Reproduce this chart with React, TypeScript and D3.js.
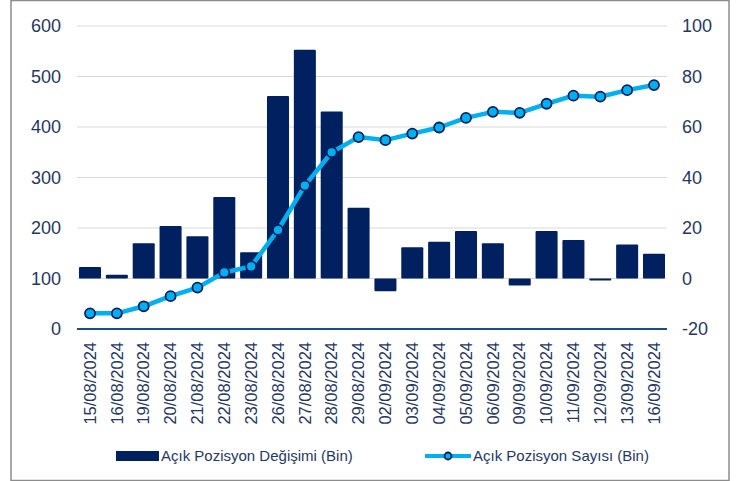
import React from "react";
import { scaleBand, scaleLinear, line } from "d3";

// tarih etiketleri
const dates = [
  "15/08/2024", "16/08/2024", "19/08/2024", "20/08/2024", "21/08/2024", "22/08/2024",
  "23/08/2024", "26/08/2024", "27/08/2024", "28/08/2024", "29/08/2024", "02/09/2024",
  "03/09/2024", "04/09/2024", "05/09/2024", "06/09/2024", "09/09/2024", "10/09/2024",
  "11/09/2024", "12/09/2024", "13/09/2024", "16/09/2024",
];

// Açık Pozisyon Değişimi (Bin) - sağ eksen
const degisim = [
  4.6, 1.5, 14, 20.8, 16.7, 32.3, 10.4, 72.3, 90.6, 66.1, 28, -5,
  12.4, 14.6, 18.8, 14, -2.8, 18.8, 15.2, -0.8, 13.5, 9.8,
];

// Açık Pozisyon Sayısı (Bin) - sol eksen
const sayi = [
  31, 31, 45, 65, 82, 112, 124, 196, 284, 350, 380, 374,
  387, 399, 418, 430, 428, 446, 462, 460, 473, 483,
];

const leftTicks = [0, 100, 200, 300, 400, 500, 600];
const rightTicks = [-20, 0, 20, 40, 60, 80, 100];

const width = 745;
const height = 481;
const margin = { top: 26, right: 78, bottom: 152, left: 77 };

const navy = "#002060";
const cyan = "#00B0F0";
const textColor = "#1F3864";

const App = () => {
  const innerBottom = height - margin.bottom + 0;
  const x = scaleBand()
    .domain(dates)
    .range([margin.left, width - margin.right])
    .paddingInner(0.18)
    .paddingOuter(0.074);

  const yL = scaleLinear().domain([0, 600]).range([329, margin.top]);
  const yR = scaleLinear().domain([-20, 100]).range([329, margin.top]);

  const cx = (d: string) => (x(d) || 0) + x.bandwidth() / 2;

  const path = line<number>()
    .x((_, i) => cx(dates[i]))
    .y((d) => yL(d))(sayi);

  return (
    <svg
      width={width}
      height={height}
      style={{ position: "absolute", left: 0, top: 0, fontFamily: "Liberation Sans, Arial, sans-serif" }}
    >
      <rect x={0} y={0} width={width} height={height} fill="white" />
      <rect x={11} y={0.5} width={718} height={480} fill="none" stroke="#8c8c8c" strokeWidth={1.5} />

      {/* grid */}
      {leftTicks.filter(t => t > 0).map((t) => (
        <line key={t} x1={margin.left} x2={width - margin.right} y1={yL(t)} y2={yL(t)} stroke="#D9D9D9" strokeWidth={1} />
      ))}

      {/* bars */}
      {degisim.map((v, i) => (
        <rect
          key={i}
          x={x(dates[i])}
          y={Math.min(yR(v), yR(0))}
          width={x.bandwidth()}
          height={Math.abs(yR(v) - yR(0))}
          fill={navy}
          rx={1}
        />
      ))}

      {/* x axis line */}
      <line x1={margin.left} x2={width - margin.right} y1={yL(0)} y2={yL(0)} stroke="#1F4E79" strokeWidth={2} />

      {/* line */}
      <path d={path || ""} fill="none" stroke={cyan} strokeWidth={4.5} strokeLinejoin="round" />
      {sayi.map((v, i) => (
        <circle key={i} cx={cx(dates[i])} cy={yL(v)} r={5} fill={cyan} stroke={navy} strokeWidth={1.8} />
      ))}

      {/* left axis labels */}
      {leftTicks.map((t) => (
        <text key={t} x={61} y={yL(t)} dy="0.35em" textAnchor="end" fontSize={18} fill={textColor}>{t}</text>
      ))}

      {/* right axis labels */}
      {rightTicks.map((t) => (
        <text key={t} x={682} y={yR(t)} dy="0.35em" textAnchor="start" fontSize={18} fill={textColor}>{t}</text>
      ))}

      {/* date labels */}
      {dates.map((d) => (
        <text
          key={d}
          transform={`translate(${cx(d)}, ${innerBottom + 13}) rotate(-90)`}
          dy="0.35em"
          textAnchor="end"
          fontSize={16.5}
          fill={textColor}
        >{d}</text>
      ))}

      {/* legend */}
      <g>
        <rect x={116} y={451} width={43} height={10} fill={navy} />
        <text x={161} y={456} dy="0.35em" fontSize={15} fill={textColor}>Açık Pozisyon Değişimi (Bin)</text>
        <line x1={425} x2={471} y1={456} y2={456} stroke={cyan} strokeWidth={4} />
        <circle cx={448} cy={456} r={3.5} fill={cyan} stroke={navy} strokeWidth={1.8} />
        <text x={473} y={456} dy="0.35em" fontSize={15} fill={textColor}>Açık Pozisyon Sayısı (Bin)</text>
      </g>
    </svg>
  );
};

export default App;
